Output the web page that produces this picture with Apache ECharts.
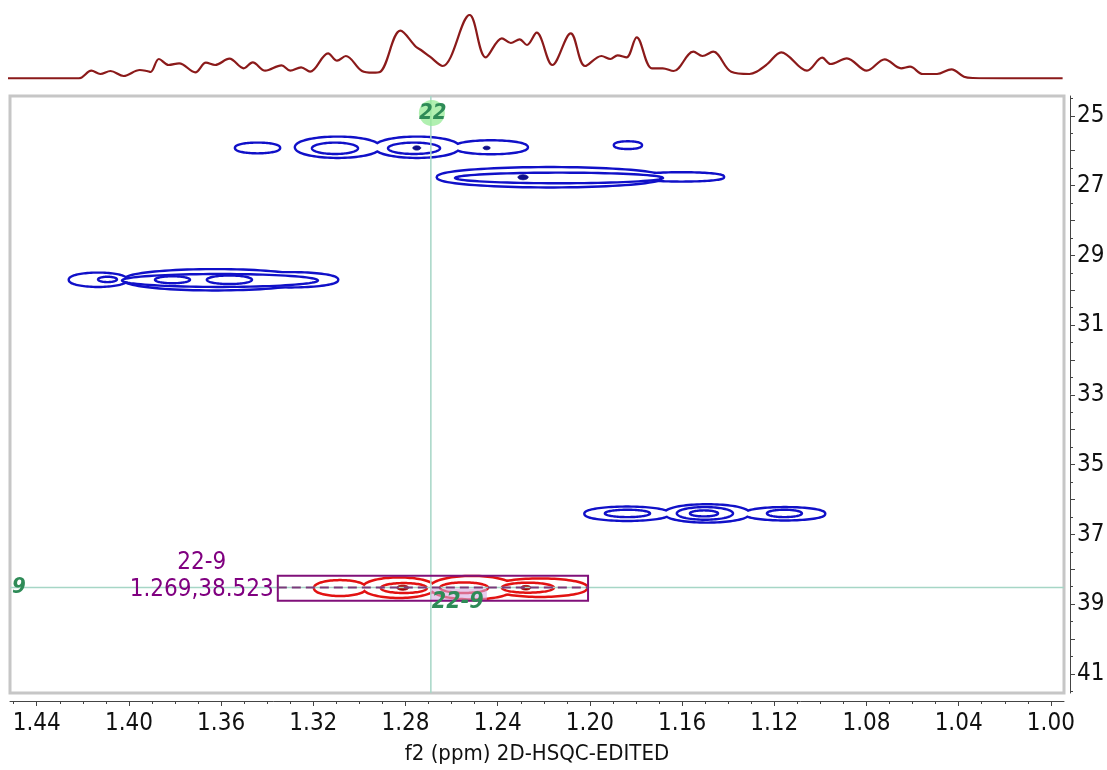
<!DOCTYPE html>
<html><head><meta charset="utf-8">
<script src="https://cdn.jsdelivr.net/npm/echarts@6/dist/echarts.min.js"></script>
<style>html,body{margin:0;padding:0;background:#fff}#c{width:1107px;height:770px}</style>
</head><body><div id="c"></div>
<script>
// ---- 1D f2 projection trace (ppm, relative intensity)
const specPpm = [1.4530,1.4300,1.4217,1.4163,1.4124,1.4080,1.4023,1.3953,1.3922,1.3906,1.3870,1.3828,1.3782,1.3712,1.3666,1.3626,1.3564,1.3502,1.3463,1.3409,1.3338,1.3300,1.3253,1.3214,1.3136,1.3097,1.3059,1.2989,1.2942,1.2911,1.2822,1.2755,1.2733,1.2694,1.2639,1.2522,1.2452,1.2382,1.2343,1.2305,1.2273,1.2231,1.2163,1.2083,1.2021,1.1950,1.1911,1.1880,1.1841,1.1797,1.1731,1.1684,1.1637,1.1551,1.1512,1.1465,1.1387,1.1308,1.1277,1.1230,1.1170,1.1058,1.0992,1.0956,1.0885,1.0799,1.0721,1.0650,1.0611,1.0556,1.0494,1.0431,1.0377,1.0338,1.0200,0.9949];
const specInt = [0,0,0,7.6,4.3,7.3,2.3,8.3,7.3,6.3,19.3,13.3,15,6,15.6,13.3,19.6,10,16,7.6,13,7.6,11,6.6,25,17.6,22.3,7.3,5.6,6.3,47.6,31.6,28.3,21.6,12.3,63.3,21,40,35.3,39,33.3,45.6,13.3,45,12.3,22.3,19.3,23,21,41,10,10,7.3,26.6,22.3,26.6,6.6,4.3,6.6,14.3,26,7.6,20.6,14.3,20,7.6,19,10,11.6,4.3,4.3,9,1.6,0.3,0,0];

// ---- contour levels as ellipses: [f2 ppm centre, f1 ppm centre, f2 half-width, f1 half-height]
const blueOuter = [
  [1.3442,25.92,0.0093,0.120],[1.3095,25.90,0.0180,0.272],[1.2750,25.90,0.0180,0.272],[1.2429,25.90,0.0155,0.166],
  [1.1835,25.84,0.0056,0.077],
  [1.2173,26.76,0.0486,0.258],[1.1603,26.75,0.0180,0.100],
  [1.4134,29.70,0.0122,0.172],[1.3626,29.70,0.0391,0.272],[1.3301,29.70,0.0204,0.186],
  [1.1839,36.41,0.0180,0.172],[1.1492,36.40,0.0180,0.229],[1.1154,36.41,0.0170,0.158]
];
const blueInner = [
  [1.3106,25.93,0.0100,0.163],[1.2763,25.93,0.0113,0.163],
  [1.2134,26.78,0.0451,0.152],
  [1.3605,29.72,0.0425,0.186],[1.4093,29.69,0.0041,0.077],[1.3811,29.70,0.0076,0.100],[1.3564,29.70,0.0098,0.123],
  [1.1837,36.40,0.0098,0.106],[1.1501,36.40,0.0122,0.181],[1.1156,36.40,0.0076,0.106],[1.1505,36.40,0.0061,0.086]
];
const blueDots = [[1.2751,25.92,0.0017,0.06],[1.2448,25.92,0.0015,0.05],[1.2290,26.76,0.0022,0.07]];
const redOuter = [[1.3084,38.54,0.0108,0.192],[1.2828,38.53,0.0152,0.258],[1.2511,38.53,0.0178,0.301],[1.2216,38.53,0.0200,0.229]];
const redInner = [[1.2807,38.54,0.0100,0.143],[1.2546,38.53,0.0104,0.152],[1.2269,38.53,0.0113,0.143]];
const redDots = [[1.2812,38.53,0.0026,0.072],[1.2278,38.53,0.0022,0.065]];

// ---- axes
const xLabels = [1.44,1.40,1.36,1.32,1.28,1.24,1.20,1.16,1.12,1.08,1.04,1.00];
const xTicks = [1.45,1.44,1.43,1.42,1.41,1.40,1.39,1.38,1.37,1.36,1.35,1.34,1.33,1.32,1.31,1.30,1.29,1.28,1.27,1.26,1.25,1.24,1.23,1.22,1.21,1.20,1.19,1.18,1.17,1.16,1.15,1.14,1.13,1.12,1.11,1.10,1.09,1.08,1.07,1.06,1.05,1.04,1.03,1.02,1.01,1.00];
const yLabels = [25,27,29,31,33,35,37,39,41];
const yTicks = [25,26,27,28,29,30,31,32,33,34,35,36,37,38,39,40,41];
const yHalfTicks = [24.5,25.5,26.5,27.5,28.5,29.5,30.5,31.5,32.5,33.5,34.5,35.5,36.5,37.5,38.5,39.5,40.5,41.5];

// ---- cursor / annotation
const cursor = [1.269, 38.523];
const peakBox = [1.3354, 38.19, 1.2008, 38.907];
const peakName = '22-9', f2Name = '22', f1Name = '9';
const xTitle = 'f2 (ppm) 2D-HSQC-EDITED';

const FONT = "'DejaVu Sans Condensed','Liberation Sans',sans-serif";
const BLUE = '#1010c8', RED = '#e21212';

function ellipsePts(api){
  const c = api.coord([api.value(0), api.value(1)]);
  const s = api.size([api.value(2), api.value(3)]);
  const rx = Math.abs(s[0]), ry = Math.abs(s[1]);
  const pts = [];
  for (let i = 0; i < 90; i++) { const t = i/90*2*Math.PI; pts.push([c[0]+rx*Math.cos(t), c[1]+ry*Math.sin(t)]); }
  return pts;
}
function ellSeries(data, style, z){
  return {type:'custom', xAxisIndex:0, yAxisIndex:0, z:z, silent:true, data:data,
    renderItem:(p, api)=>({type:'polygon', shape:{points:ellipsePts(api)}, style:style})};
}

const chart = echarts.init(document.getElementById('c'), null, {renderer:'canvas'});
const xMin = 0.9943, xMax = 1.4516, yMin = 24.43, yMax = 41.55;

chart.setOption({
  animation:false,
  backgroundColor:'#fff',
  grid:[
    {left:10, right:43, top:96, bottom:77, outerBoundsMode:'none', containLabel:false, show:true, borderColor:'#c6c6c6', borderWidth:3, backgroundColor:'#fff'},
    {left:10, right:43, top:15, height:63.3, outerBoundsMode:'none', containLabel:false}
  ],
  xAxis:[
    {gridIndex:0, type:'value', position:'bottom', min:xMin, max:xMax, inverse:true, offset:8,
     axisLine:{show:true, lineStyle:{color:'#444', width:1}},
     axisTick:{show:true, customValues:xLabels, length:5, lineStyle:{color:'#444'}},
     axisLabel:{show:true, customValues:xLabels, formatter:v=>v.toFixed(2), fontFamily:FONT, fontSize:24, color:'#111', margin:11},
     splitLine:{show:false},
     name:xTitle, nameLocation:'middle', nameGap:42, nameTextStyle:{fontFamily:FONT, fontSize:22, color:'#111'}},
    {gridIndex:0, type:'value', position:'bottom', min:xMin, max:xMax, inverse:true, offset:8,
     axisLine:{show:false}, axisTick:{show:true, customValues:xTicks, length:3, lineStyle:{color:'#444'}},
     axisLabel:{show:false}, splitLine:{show:false}},
    {gridIndex:1, type:'value', min:xMin, max:xMax, inverse:true, show:false}
  ],
  yAxis:[
    {gridIndex:0, type:'value', position:'right', min:yMin, max:yMax, inverse:true, offset:6,
     axisLine:{show:true, lineStyle:{color:'#444', width:1}},
     axisTick:{show:true, customValues:yTicks, length:5, lineStyle:{color:'#444'}},
     axisLabel:{show:true, customValues:yLabels, fontFamily:FONT, fontSize:24, color:'#111', margin:7},
     splitLine:{show:false}},
    {gridIndex:0, type:'value', position:'right', min:yMin, max:yMax, inverse:true, offset:6,
     axisLine:{show:false}, axisTick:{show:true, customValues:yHalfTicks, length:3, lineStyle:{color:'#444'}},
     axisLabel:{show:false}, splitLine:{show:false}},
    {gridIndex:1, type:'value', min:0, max:63.3, show:false}
  ],
  series:[
    {type:'line', xAxisIndex:2, yAxisIndex:2, smooth:0.35, symbol:'none', silent:true,
     data:specPpm.map((p,i)=>[p, specInt[i]]), lineStyle:{color:'#8b1a1a', width:2.2}},
    ellSeries(blueOuter, {fill:'none', stroke:BLUE, lineWidth:4.8}, 2),
    ellSeries(redOuter, {fill:'none', stroke:RED, lineWidth:5}, 2),
    ellSeries(blueOuter.concat(redOuter), {fill:'#fff', stroke:null, lineWidth:0}, 3),
    ellSeries(blueInner, {fill:'none', stroke:BLUE, lineWidth:2.4}, 4),
    ellSeries(redInner, {fill:'none', stroke:RED, lineWidth:2.5}, 4),
    ellSeries(blueDots, {fill:'#10108a', stroke:'#10108a', lineWidth:1}, 4),
    ellSeries(redDots, {fill:'#a00000', stroke:'#a00000', lineWidth:1}, 4),
    {type:'custom', xAxisIndex:0, yAxisIndex:0, z:6, silent:true, data:[cursor],
     renderItem:(params, api)=>{
       const cs = params.coordSys;
       const p = api.coord([api.value(0), api.value(1)]);
       const b1 = api.coord([peakBox[0], peakBox[1]]);
       const b2 = api.coord([peakBox[2], peakBox[3]]);
       const txt = cursor[0].toFixed(3)+','+cursor[1].toFixed(3);
       return {type:'group', children:[
         {type:'line', shape:{x1:p[0], y1:cs.y, x2:p[0], y2:cs.y+cs.height}, style:{stroke:'#a6d6c6', lineWidth:1.5}},
         {type:'line', shape:{x1:cs.x, y1:p[1], x2:cs.x+cs.width, y2:p[1]}, style:{stroke:'#a6d6c6', lineWidth:1.5}},
         {type:'rect', shape:{x:p[0], y:p[1]+1, width:56, height:13}, style:{fill:'rgba(215,170,225,0.6)'}},
         {type:'rect', shape:{x:b1[0], y:b1[1], width:b2[0]-b1[0], height:b2[1]-b1[1]}, style:{fill:'none', stroke:'#80107a', lineWidth:2}},
         {type:'line', shape:{x1:b1[0], y1:p[1], x2:b2[0], y2:p[1]}, style:{stroke:'#7a3a7a', lineWidth:2, lineDash:[9,5]}},
         {type:'text', style:{text:txt, x:b1[0]-4, y:p[1]+2, align:'right', verticalAlign:'middle', font:'24px '+FONT, fill:'#800080'}},
         {type:'text', style:{text:peakName, x:b1[0]-76, y:p[1]-25, align:'center', verticalAlign:'middle', font:'24px '+FONT, fill:'#800080'}},
         {type:'text', style:{text:peakName, x:p[0]+1, y:p[1]+15, align:'left', verticalAlign:'middle', font:'italic bold 23px '+FONT, fill:'#2e8b57'}},
         {type:'circle', shape:{cx:p[0]+1, cy:cs.y+17, r:13}, style:{fill:'rgba(150,235,150,0.75)'}},
         {type:'text', style:{text:f2Name, x:p[0]+2, y:cs.y+17, align:'center', verticalAlign:'middle', font:'italic bold 22px '+FONT, fill:'#2e8b57'}},
         {type:'text', style:{text:f1Name, x:cs.x+9, y:p[1], align:'center', verticalAlign:'middle', font:'italic bold 22px '+FONT, fill:'#2e8b57'}}
       ]};
     }}
  ]
});
</script></body></html>
